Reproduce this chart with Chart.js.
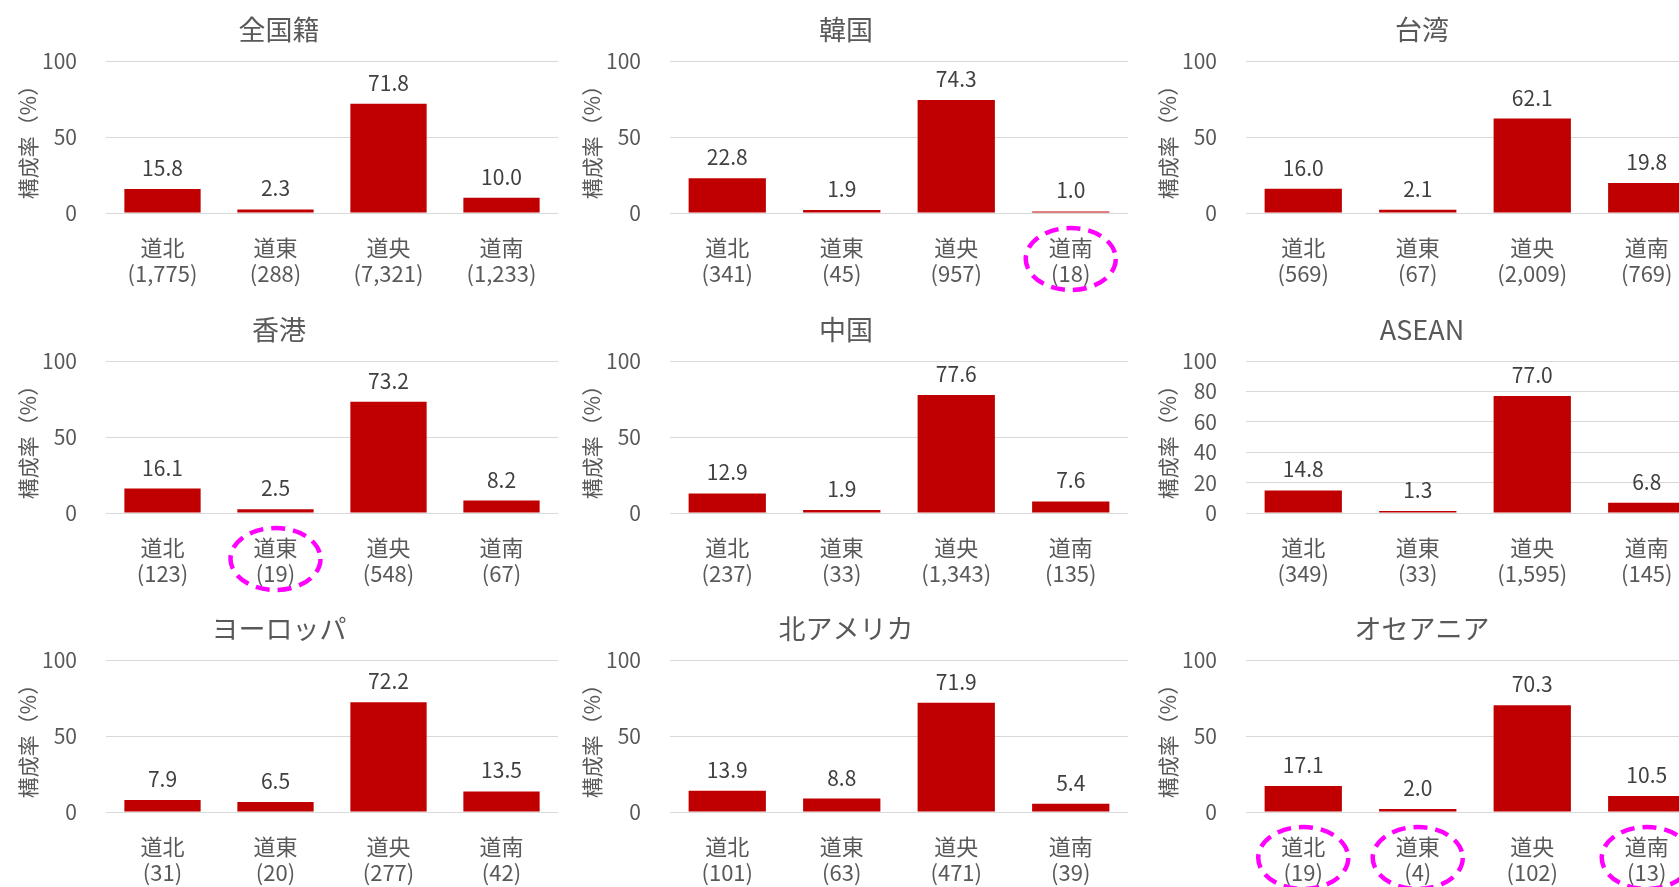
<!DOCTYPE html>
<html lang="ja">
<head>
<meta charset="utf-8">
<title>地域別構成率</title>
<script src="https://cdn.jsdelivr.net/npm/chart.js@4.4.1/dist/chart.umd.min.js"></script>
<style>
  html, body { margin: 0; padding: 0; background: #fff; }
  body { width: 1679px; height: 887px; overflow: hidden; position: relative; }
  .panel { position: absolute; }
</style>
</head>
<body>
<script>
// categories (x axis)
const regions = ["道北", "道東", "道央", "道南"];

// panel titles, left-to-right / top-to-bottom
const titles = ["全国籍", "韓国", "台湾", "香港", "中国", "ASEAN", "ヨーロッパ", "北アメリカ", "オセアニア"];

// 構成率（%）
const shareAll = [15.8, 2.3, 71.8, 10.0];
const shareKorea = [22.8, 1.9, 74.3, 1.0];
const shareTaiwan = [16.0, 2.1, 62.1, 19.8];
const shareHongKong = [16.1, 2.5, 73.2, 8.2];
const shareChina = [12.9, 1.9, 77.6, 7.6];
const shareAsean = [14.8, 1.3, 77.0, 6.8];
const shareEurope = [7.9, 6.5, 72.2, 13.5];
const shareNorthAmerica = [13.9, 8.8, 71.9, 5.4];
const shareOceania = [17.1, 2.0, 70.3, 10.5];

// sample sizes shown under each region
const countAll = [1775, 288, 7321, 1233];
const countKorea = [341, 45, 957, 18];
const countTaiwan = [569, 67, 2009, 769];
const countHongKong = [123, 19, 548, 67];
const countChina = [237, 33, 1343, 135];
const countAsean = [349, 33, 1595, 145];
const countEurope = [31, 20, 277, 42];
const countNorthAmerica = [101, 63, 471, 39];
const countOceania = [19, 4, 102, 13];

// small samples circled in the original
const circledKorea = ["道南"];
const circledHongKong = ["道東"];
const circledOceania = ["道北", "道東", "道南"];

// y tick steps
const yTickStep = 50;
const yTickStepAsean = 20;

(function () {
  "use strict";

  const FONT = "'Noto Sans CJK JP', 'Noto Sans', sans-serif";
  const TEXT = "#595959";
  const BAR = "#C00000";

  Chart.defaults.font.family = FONT;

  const panels = [
    { title: titles[0], share: shareAll, count: countAll, circled: [], step: yTickStep },
    { title: titles[1], share: shareKorea, count: countKorea, circled: circledKorea, step: yTickStep },
    { title: titles[2], share: shareTaiwan, count: countTaiwan, circled: [], step: yTickStep },
    { title: titles[3], share: shareHongKong, count: countHongKong, circled: circledHongKong, step: yTickStep },
    { title: titles[4], share: shareChina, count: countChina, circled: [], step: yTickStep },
    { title: titles[5], share: shareAsean, count: countAsean, circled: [], step: yTickStepAsean },
    { title: titles[6], share: shareEurope, count: countEurope, circled: [], step: yTickStep },
    { title: titles[7], share: shareNorthAmerica, count: countNorthAmerica, circled: [], step: yTickStep },
    { title: titles[8], share: shareOceania, count: countOceania, circled: circledOceania, step: yTickStep }
  ];

  // grid placement of the 3x3 panels
  const colLeft = [0, 564, 1140];
  const colPadRight = [34, 28, 28];
  const rowTop = [0, 300, 599];
  const PANEL_W = 592;
  const PANEL_H = 300;

  // value above each bar
  const valueLabels = {
    id: "valueLabels",
    afterDatasetsDraw(chart) {
      const ctx = chart.ctx;
      const meta = chart.getDatasetMeta(0);
      const values = chart.data.datasets[0].data;
      ctx.save();
      ctx.font = "21px " + FONT;
      ctx.fillStyle = "#404040";
      ctx.textAlign = "center";
      ctx.textBaseline = "middle";
      meta.data.forEach(function (bar, i) {
        ctx.fillText(values[i].toFixed(1), bar.x, bar.y - 21);
      });
      ctx.restore();
    }
  };

  // dashed magenta ellipse around circled category labels
  function circlePlugin(circled) {
    return {
      id: "circleMarks",
      afterDraw(chart) {
        if (!circled.length) return;
        const ctx = chart.ctx;
        const x = chart.scales.x;
        ctx.save();
        ctx.strokeStyle = "#FF00FF";
        ctx.lineWidth = 4.5;
        ctx.setLineDash([14, 8]);
        circled.forEach(function (name) {
          const idx = regions.indexOf(name);
          ctx.beginPath();
          ctx.ellipse(x.getPixelForValue(idx), x.top + 46, 45, 31, 0, 0, Math.PI * 2);
          ctx.stroke();
        });
        ctx.restore();
      }
    };
  }

  function renderPanel(panel, i) {
    const col = i % 3;
    const row = Math.floor(i / 3);

    const wrap = document.createElement("div");
    wrap.className = "panel";
    wrap.style.left = colLeft[col] + "px";
    wrap.style.top = rowTop[row] + "px";
    const canvas = document.createElement("canvas");
    canvas.width = PANEL_W;
    canvas.height = PANEL_H;
    wrap.appendChild(canvas);
    document.body.appendChild(wrap);

    const labels = regions.map(function (r, k) {
      return [r, "(" + panel.count[k].toLocaleString("en-US") + ")"];
    });

    new Chart(canvas, {
      type: "bar",
      data: {
        labels: labels,
        datasets: [{
          data: panel.share,
          backgroundColor: BAR,
          borderWidth: 0,
          categoryPercentage: 1,
          barPercentage: 0.675
        }]
      },
      options: {
        responsive: false,
        animation: false,
        events: [],
        layout: { padding: { left: 0, right: colPadRight[col], top: 0, bottom: 0 } },
        plugins: {
          legend: { display: false },
          tooltip: { enabled: false },
          title: {
            display: true,
            text: panel.title,
            color: TEXT,
            font: { size: 27, weight: "normal", lineHeight: 1.2 },
            padding: { top: 13.8, bottom: 14.8 }
          }
        },
        scales: {
          x: {
            grid: { display: false, drawTicks: false },
            border: { display: false },
            ticks: {
              color: TEXT,
              font: { size: 22, lineHeight: "26px" },
              padding: 22,
              maxRotation: 0,
              autoSkip: false
            },
            afterFit: function (s) { s.height = 87; }
          },
          y: {
            min: 0,
            max: 100,
            ticks: {
              stepSize: panel.step,
              color: TEXT,
              font: { size: 21 },
              padding: 29
            },
            grid: { color: "#D9D9D9", lineWidth: 1, drawTicks: false },
            border: { display: false },
            title: {
              display: true,
              text: "構成率（%）",
              color: TEXT,
              font: { size: 21, lineHeight: 1.2 },
              padding: { top: 15, bottom: 0 }
            },
            afterFit: function (s) { s.width = 106; }
          }
        }
      },
      plugins: [valueLabels, circlePlugin(panel.circled)]
    });
  }

  panels.forEach(renderPanel);
})();
</script>
</body>
</html>
